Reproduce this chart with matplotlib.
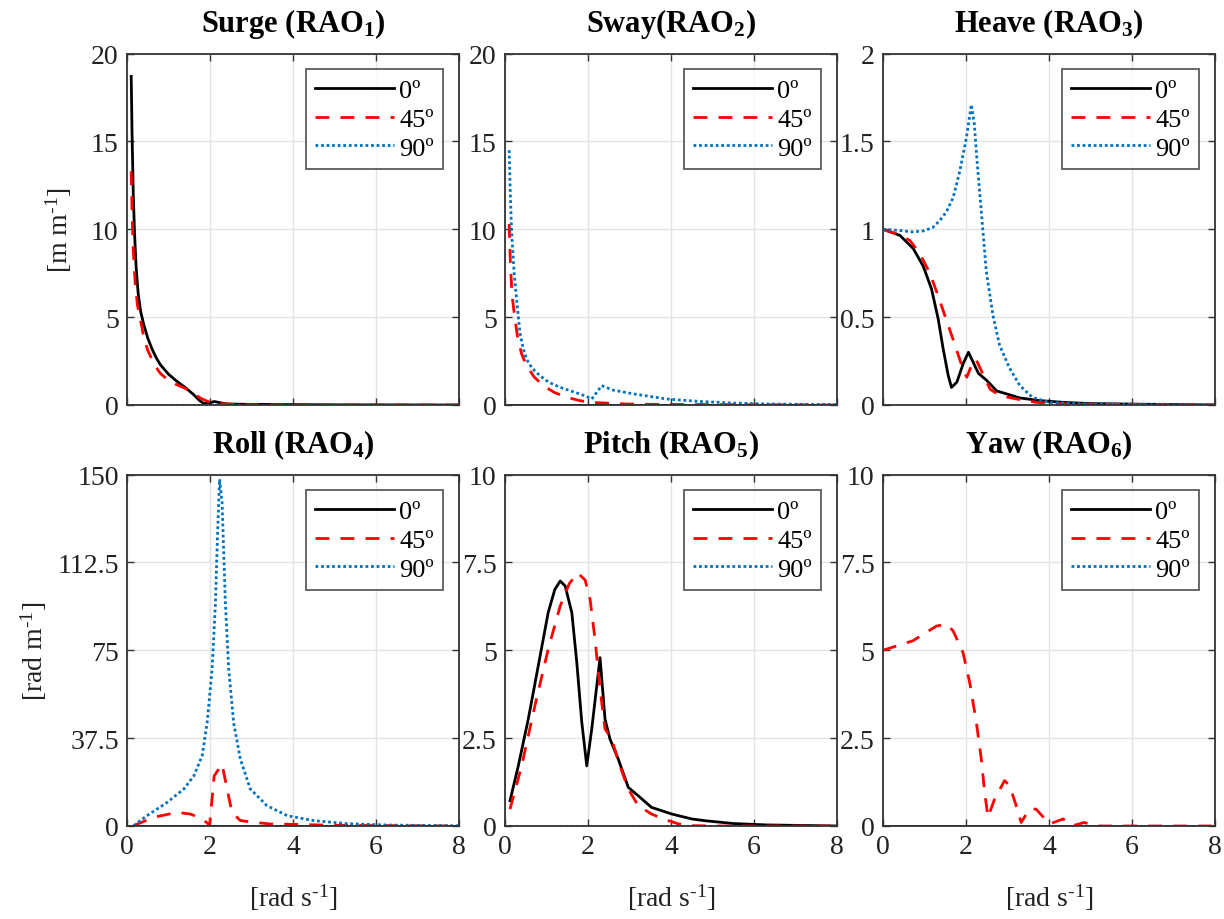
import numpy as np
import matplotlib
matplotlib.use('Agg')
import matplotlib.pyplot as plt

plt.rcParams['font.family'] = ['Liberation Serif', 'DejaVu Serif']
plt.rcParams['mathtext.fontset'] = 'custom'
plt.rcParams['mathtext.rm'] = 'Liberation Serif'
plt.rcParams['mathtext.bf'] = 'Liberation Serif:bold'
plt.rcParams['mathtext.it'] = 'Liberation Serif:italic'

# 图例标签
headings = ['0º', '45º', '90º']

# Surge
surge_w0 = [0.1, 0.12, 0.15, 0.18, 0.22, 0.27, 0.33, 0.4, 0.5, 0.6, 0.7, 0.8, 1.0, 1.2, 1.4, 1.6, 1.75, 1.85, 2.0, 2.1, 2.2, 2.4, 2.8, 3.5, 5.0, 8.0]
surge_0 = [18.7, 15.5, 12.0, 9.8, 7.8, 6.3, 5.3, 4.6, 3.8, 3.2, 2.7, 2.3, 1.75, 1.35, 1.0, 0.6, 0.25, 0.08, 0.12, 0.2, 0.15, 0.06, 0.04, 0.03, 0.01, 0.0]
surge_w45 = [0.1, 0.12, 0.15, 0.2, 0.25, 0.31, 0.4, 0.5, 0.6, 0.7, 0.8, 1.0, 1.2, 1.4, 1.6, 1.8, 2.0, 2.2, 2.6, 3.0, 4.0, 8.0]
surge_45 = [13.3, 11.0, 8.8, 6.8, 5.7, 5.0, 3.9, 3.1, 2.6, 2.15, 1.8, 1.4, 1.15, 0.95, 0.65, 0.35, 0.15, 0.08, 0.03, 0.02, 0.01, 0.0]
surge_w90 = [0.1, 8.0]
surge_90 = [0.0, 0.0]

# Sway
sway_w0 = [0.1, 8.0]
sway_0 = [0.0, 0.0]
sway_w45 = [0.1, 0.13, 0.17, 0.24, 0.3, 0.4, 0.52, 0.7, 0.92, 1.2, 1.49, 1.8, 2.05, 2.5, 3.0, 4.0, 8.0]
sway_45 = [10.3, 8.0, 6.2, 4.9, 3.9, 2.9, 2.24, 1.6, 1.1, 0.7, 0.44, 0.25, 0.15, 0.1, 0.05, 0.03, 0.0]
sway_w90 = [0.1, 0.13, 0.16, 0.22, 0.28, 0.36, 0.44, 0.52, 0.65, 0.84, 1.05, 1.33, 1.55, 1.8, 1.95, 2.09, 2.33, 2.6, 3.1, 3.9, 4.7, 5.5, 6.3, 8.0]
sway_90 = [14.5, 11.8, 9.8, 7.5, 6.0, 4.1, 3.2, 2.6, 2.1, 1.67, 1.3, 1.0, 0.83, 0.63, 0.5, 0.34, 1.1, 0.85, 0.63, 0.34, 0.2, 0.11, 0.06, 0.02]

# Heave
heave_w0 = [0.0, 0.41, 0.73, 0.97, 1.17, 1.33, 1.45, 1.57, 1.65, 1.78, 1.94, 2.06, 2.18, 2.3, 2.5, 2.74, 2.98, 3.3, 3.78, 4.35, 5.0, 8.0]
heave_0 = [1.0, 0.965, 0.89, 0.79, 0.66, 0.49, 0.32, 0.17, 0.10, 0.13, 0.24, 0.30, 0.24, 0.18, 0.14, 0.08, 0.063, 0.04, 0.025, 0.015, 0.008, 0.0]
heave_w45 = [0.0, 0.33, 0.65, 0.89, 1.13, 1.33, 1.49, 1.65, 1.82, 1.94, 2.02, 2.14, 2.24, 2.42, 2.58, 2.82, 3.22, 3.7, 4.5, 8.0]
heave_45 = [1.0, 0.974, 0.936, 0.86, 0.75, 0.62, 0.51, 0.40, 0.28, 0.196, 0.158, 0.23, 0.26, 0.17, 0.09, 0.053, 0.034, 0.015, 0.005, 0.0]
heave_w90 = [0.0, 0.4, 0.7, 0.96, 1.2, 1.37, 1.53, 1.69, 1.85, 2.01, 2.13, 2.2, 2.28, 2.37, 2.49, 2.65, 2.81, 3.05, 3.3, 3.6, 4.0, 5.0, 8.0]
heave_90 = [1.0, 0.993, 0.985, 0.99, 1.01, 1.05, 1.1, 1.18, 1.33, 1.52, 1.71, 1.6, 1.35, 1.1, 0.76, 0.51, 0.34, 0.21, 0.11, 0.044, 0.015, 0.005, 0.0]

# Roll
roll_w0 = [0.1, 8.0]
roll_0 = [0.0, 0.0]
roll_w45 = [0.16, 0.64, 1.2, 1.53, 1.81, 1.99, 2.1, 2.29, 2.41, 2.53, 2.73, 3.05, 3.45, 4.0, 5.0, 8.0]
roll_45 = [0.14, 3.7, 5.8, 5.1, 3.0, 0.4, 21.4, 26.4, 15.8, 5.8, 2.3, 1.6, 0.85, 0.7, 0.3, 0.0]
roll_w90 = [0.16, 0.48, 0.96, 1.37, 1.61, 1.81, 1.93, 2.05, 2.13, 2.18, 2.23, 2.29, 2.37, 2.45, 2.57, 2.73, 2.97, 3.37, 3.86, 4.5, 5.3, 6.3, 8.0]
roll_90 = [0.14, 4.4, 10.0, 15.8, 21.4, 30.0, 44.0, 67.0, 95.0, 124.0, 148.0, 138.0, 95.0, 67.0, 44.0, 28.6, 15.8, 8.7, 4.4, 2.3, 1.0, 0.4, 0.1]

# Pitch
pitch_w0 = [0.12, 0.32, 0.56, 0.8, 1.04, 1.2, 1.33, 1.45, 1.61, 1.73, 1.85, 1.97, 2.09, 2.29, 2.41, 2.53, 2.73, 2.97, 3.21, 3.53, 4.02, 4.5, 4.82, 5.5, 6.3, 8.0]
pitch_0 = [0.72, 1.71, 3.04, 4.55, 6.07, 6.73, 6.97, 6.83, 6.07, 4.65, 2.95, 1.71, 2.76, 4.79, 3.04, 2.47, 1.9, 1.1, 0.86, 0.53, 0.34, 0.2, 0.15, 0.07, 0.03, 0.0]
pitch_w45 = [0.12, 0.4, 0.72, 1.04, 1.33, 1.55, 1.75, 1.93, 2.05, 2.17, 2.29, 2.41, 2.57, 2.77, 2.97, 3.21, 3.53, 3.86, 4.18, 4.5, 5.0, 8.0]
pitch_45 = [0.48, 1.71, 3.42, 5.03, 6.26, 6.9, 7.2, 7.0, 6.45, 5.3, 3.9, 2.76, 2.47, 1.71, 1.05, 0.58, 0.34, 0.18, 0.06, 0.01, 0.0, 0.0]
pitch_w90 = [0.1, 8.0]
pitch_90 = [0.0, 0.0]

# Yaw
yaw_w0 = [0.0, 8.0]
yaw_0 = [0.0, 0.0]
yaw_w45 = [0.0, 0.72, 1.29, 1.53, 1.69, 1.93, 2.09, 2.25, 2.37, 2.45, 2.53, 2.69, 2.93, 3.05, 3.21, 3.33, 3.53, 3.69, 3.94, 4.02, 4.34, 4.58, 4.85, 5.1, 6.0, 8.0]
yaw_45 = [5.0, 5.27, 5.69, 5.74, 5.55, 4.93, 4.08, 2.95, 1.9, 0.96, 0.25, 0.77, 1.29, 1.15, 0.58, 0.1, 0.48, 0.48, 0.15, 0.06, 0.2, 0.01, 0.1, 0.0, 0.0, 0.0]
yaw_w90 = [0.0, 8.0]
yaw_90 = [0.0, 0.0]

titles = [r'Surge (RAO$_{\mathbf{1}}$)', r'Sway(RAO$_{\mathbf{2}}$)', r'Heave (RAO$_{\mathbf{3}}$)',
          r'Roll (RAO$_{\mathbf{4}}$)', r'Pitch (RAO$_{\mathbf{5}}$)', r'Yaw (RAO$_{\mathbf{6}}$)']
yticks = [[0, 5, 10, 15, 20], [0, 5, 10, 15, 20], [0, 0.5, 1, 1.5, 2],
          [0, 37.5, 75, 112.5, 150], [0, 2.5, 5, 7.5, 10], [0, 2.5, 5, 7.5, 10]]
ytick_labels = [['0', '5', '10', '15', '20'], ['0', '5', '10', '15', '20'], ['0', '0.5', '1', '1.5', '2'],
                ['0', '37.5', '75', '112.5', '150'], ['0', '2.5', '5', '7.5', '10'], ['0', '2.5', '5', '7.5', '10']]
xticks = [0, 2, 4, 6, 8]

curves = [
    [(surge_w0, surge_0), (surge_w45, surge_45), (surge_w90, surge_90)],
    [(sway_w0, sway_0), (sway_w45, sway_45), (sway_w90, sway_90)],
    [(heave_w0, heave_0), (heave_w45, heave_45), (heave_w90, heave_90)],
    [(roll_w0, roll_0), (roll_w45, roll_45), (roll_w90, roll_90)],
    [(pitch_w0, pitch_0), (pitch_w45, pitch_45), (pitch_w90, pitch_90)],
    [(yaw_w0, yaw_0), (yaw_w45, yaw_45), (yaw_w90, yaw_90)],
]

styles = [dict(color='black', linestyle='-'),
          dict(color='#ff0000', linestyle=(0, (5, 4))),
          dict(color='#0072BD', linestyle=(0, (1, 1)))]

fig = plt.figure(figsize=(12.24, 9.2), dpi=100)
lefts = [0.1038, 0.4126, 0.7214]
bottoms = [0.5587, 0.1011]
width, height = 0.2712, 0.382

for i in range(6):
    r, c = divmod(i, 3)
    ax = fig.add_axes([lefts[c], bottoms[r], width, height])
    for (w, v), st, lab in zip(curves[i], styles, headings):
        ax.plot(w, v, lw=2.0, label=lab, **st)
    ax.set_xlim(0, 8)
    ax.set_ylim(yticks[i][0], yticks[i][-1])
    ax.set_xticks(xticks)
    ax.set_yticks(yticks[i])
    ax.set_yticklabels(ytick_labels[i])
    if r == 0:
        ax.set_xticklabels([])
    else:
        ax.set_xticklabels([str(t) for t in xticks])
        ax.set_xlabel(r'[rad s$^{\text{-}1}$]', fontsize=20, color='#222222', labelpad=16)
    ax.grid(True, color='#e3e3e3', lw=1.0)
    ax.set_axisbelow(True)
    ax.tick_params(direction='in', top=True, right=True, length=5, width=1.0,
                   labelsize=20, colors='#333333', labelcolor='#222222', pad=6)
    for sp in ax.spines.values():
        sp.set_color('#333333')
        sp.set_linewidth(1.3)
    ax.set_title(titles[i], fontsize=22, fontweight='bold', pad=16)
    leg = ax.legend(loc='upper right', fontsize=19, handlelength=3.0, frameon=True,
                    fancybox=False, borderaxespad=0.6, labelspacing=0.2,
                    handletextpad=0.2, borderpad=0.35)
    leg.get_frame().set_edgecolor('#333333')
    leg.get_frame().set_linewidth(1.3)

fig.axes[0].set_ylabel(r'[m m$^{\text{-}1}$]', fontsize=20, color='#222222', labelpad=12)
fig.axes[3].set_ylabel(r'[rad m$^{\text{-}1}$]', fontsize=20, color='#222222', labelpad=6)

fig.savefig('out.png', dpi=100)
